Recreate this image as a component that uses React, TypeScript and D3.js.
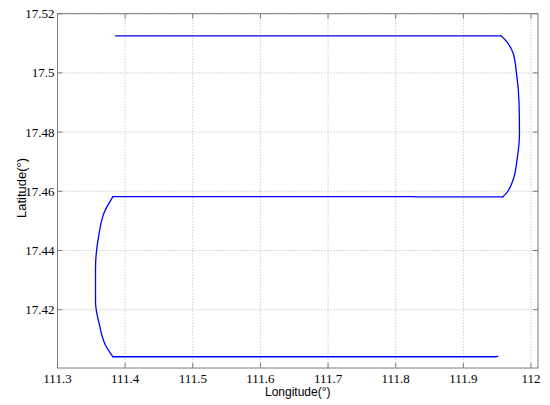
import * as d3 from "d3";

// ship track, split into the straight legs and the two turns
// top leg runs east, right turn goes south, middle leg runs west, left turn goes south, bottom leg runs east
const topLegLon = [111.386, 111.956];
const topLegLat = [17.5125, 17.5125];

const rightTurnLon = [111.956, 111.965, 111.9735, 111.9786, 111.9824, 111.983, 111.9794, 111.9735, 111.9638, 111.9583];
const rightTurnLat = [17.5125, 17.5103, 17.5067, 17.4999, 17.4899, 17.4797, 17.4706, 17.4638, 17.4594, 17.4581];

const midLegLon = [111.9583, 111.83, 111.825, 111.382];
const midLegLat = [17.4581, 17.4581, 17.4582, 17.4582];

const leftTurnLon = [111.382, 111.3695, 111.3611, 111.3562, 111.3562, 111.3621, 111.371, 111.382];
const leftTurnLat = [17.4582, 17.4531, 17.4452, 17.434, 17.4226, 17.4148, 17.408, 17.4041];

const bottomLegLon = [111.382, 111.949, 111.951];
const bottomLegLat = [17.4041, 17.4041, 17.4043];

const xTicks = [111.3, 111.4, 111.5, 111.6, 111.7, 111.8, 111.9, 112];
const yTicks = [17.42, 17.44, 17.46, 17.48, 17.5, 17.52];

const width = 550;
const height = 405;
const margin = { top: 13.7, right: 12, bottom: 37, left: 57.5 };

type Pt = [number, number];
const zip = (lon: number[], lat: number[]): Pt[] => lon.map((v, i) => [v, lat[i]]);

export default function App() {
  const x = d3.scaleLinear([111.3, 112.0104], [margin.left, width - margin.right]);
  const y = d3.scaleLinear([17.4003, 17.52], [height - margin.bottom, margin.top]);

  const straight = d3.line<Pt>((d) => x(d[0]), (d) => y(d[1]));
  const turn = d3.line<Pt>((d) => x(d[0]), (d) => y(d[1])).curve(d3.curveMonotoneY);

  const pieces = [
    straight(zip(topLegLon, topLegLat)),
    turn(zip(rightTurnLon, rightTurnLat)),
    straight(zip(midLegLon, midLegLat)),
    turn(zip(leftTurnLon, leftTurnLat)),
    straight(zip(bottomLegLon, bottomLegLat)),
  ];

  const x0 = margin.left;
  const x1 = width - margin.right;
  const y0 = margin.top;
  const y1 = height - margin.bottom;
  const tick = 5;

  return (
    <svg
      width={width}
      height={height}
      style={{ position: "absolute", left: 0, top: 0, background: "#fff" }}
    >
      <rect x={0} y={0} width={width} height={height} fill="#fff" />
      {/* grid */}
      <g stroke="#b4b4b4" strokeWidth={1} strokeDasharray="1,2">
        {xTicks.map((t) => (
          <line key={"gx" + t} x1={x(t)} x2={x(t)} y1={y0} y2={y1} />
        ))}
        {yTicks.map((t) => (
          <line key={"gy" + t} x1={x0} x2={x1} y1={y(t)} y2={y(t)} />
        ))}
      </g>
      {/* ticks on all four sides */}
      <g stroke="#7a7a7a" strokeWidth={1}>
        {xTicks.map((t) => (
          <g key={"tx" + t}>
            <line x1={x(t)} x2={x(t)} y1={y1} y2={y1 - tick} />
            <line x1={x(t)} x2={x(t)} y1={y0} y2={y0 + tick} />
          </g>
        ))}
        {yTicks.map((t) => (
          <g key={"ty" + t}>
            <line x1={x0} x2={x0 + tick} y1={y(t)} y2={y(t)} />
            <line x1={x1} x2={x1 - tick} y1={y(t)} y2={y(t)} />
          </g>
        ))}
      </g>
      <g fill="none" stroke="#0000ff" strokeWidth={1.3} strokeLinejoin="round" strokeLinecap="round">
        {pieces.map((d, i) => (
          <path key={i} d={d ?? ""} />
        ))}
      </g>
      <rect x={x0} y={y0} width={x1 - x0} height={y1 - y0} fill="none" stroke="#7a7a7a" strokeWidth={1} />
      {/* tick labels */}
      <g fontFamily="'Liberation Serif', 'Times New Roman', serif" fontSize={13} fill="#000">
        {xTicks.map((t) => (
          <text key={"lx" + t} x={x(t)} y={y1 + 15} textAnchor="middle">
            {d3.format("~g")(t)}
          </text>
        ))}
        {yTicks.map((t) => (
          <text key={"ly" + t} x={x0 - 3} y={y(t) + 4.5} textAnchor="end">
            {d3.format("~g")(t)}
          </text>
        ))}
      </g>
      <g fontFamily="'Liberation Sans', Arial, sans-serif" fill="#000">
        <text x={(x0 + x1) / 2} y={396} textAnchor="middle" fontSize={12}>
          Longitude(°)
        </text>
        <text transform="translate(26,188) rotate(-90)" textAnchor="middle" fontSize={13}>
          Latitude(°)
        </text>
      </g>
    </svg>
  );
}
